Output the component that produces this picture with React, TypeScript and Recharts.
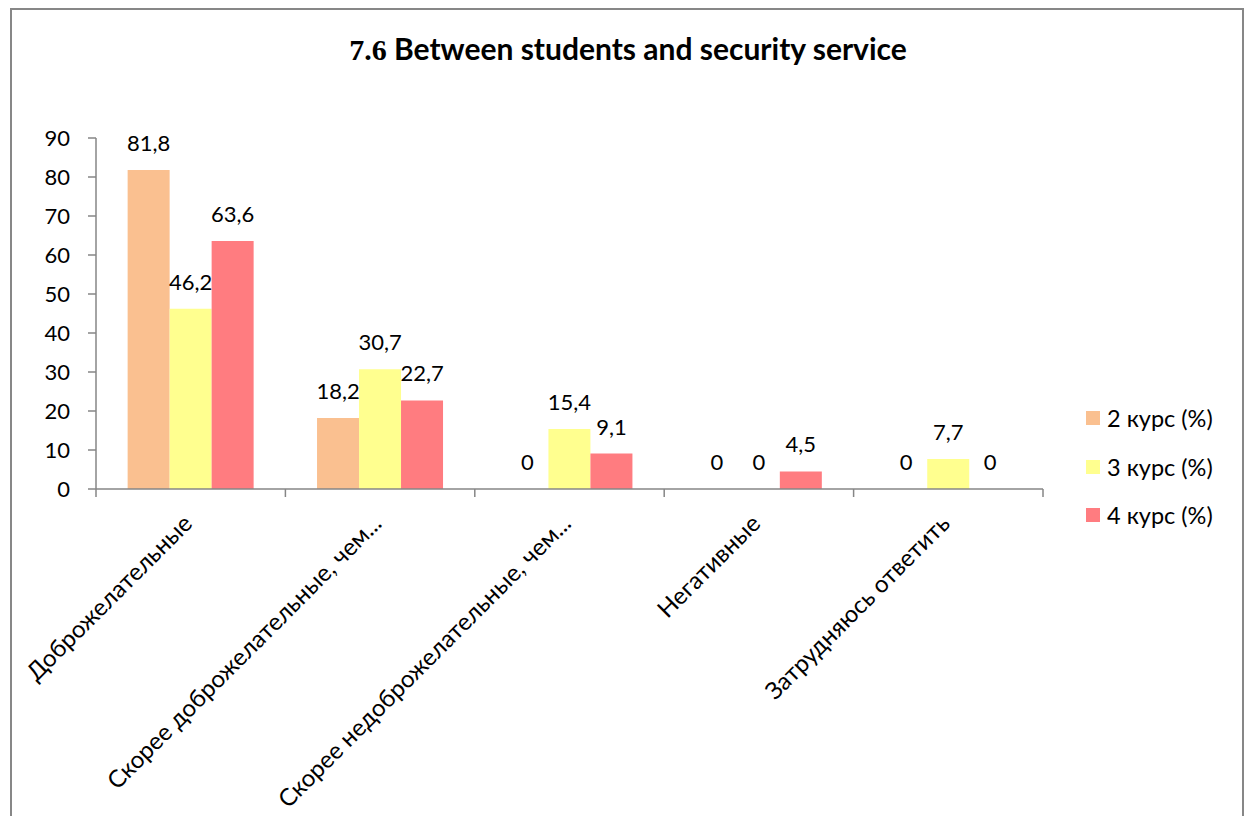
import { BarChart, Bar, XAxis, YAxis, Legend, LabelList } from 'recharts';

const categories = [
  'Доброжелательные',
  'Скорее доброжелательные, чем...',
  'Скорее недоброжелательные, чем...',
  'Негативные',
  'Затрудняюсь ответить',
];
const course2 = [81.8, 18.2, 0, 0, 0];
const course3 = [46.2, 30.7, 15.4, 0, 7.7];
const course4 = [63.6, 22.7, 9.1, 4.5, 0];
const yTicks = [0, 10, 20, 30, 40, 50, 60, 70, 80, 90];

const FONT = 'Lato, "Open Sans", sans-serif';
const AXIS = '#868686';
const W = 1248;
const H = 816;
const PLOT_LEFT = 96;
const PLOT_RIGHT = 1043;
const BAND = (PLOT_RIGHT - PLOT_LEFT) / categories.length;

const data = categories.map((name, i) => ({
  name,
  c2: course2[i],
  c3: course3[i],
  c4: course4[i],
}));

const fmt = (v: any) => String(v).replace('.', ',');

// zero bars get dropped otherwise, so keep a hairline entry for their "0" label
const keepZero = (v: any) => (v === 0 ? 0.01 : 0);

function ValueLabel(props: any) {
  const { x, y, width, value } = props;
  if (value === undefined || value === null) return null;
  return (
    <text
      x={x + width / 2}
      y={y - 19}
      textAnchor="middle"
      fontSize={22}
      fontFamily={FONT}
      fill="#000"
    >
      {fmt(value)}
    </text>
  );
}

function CategoryTick(props: any) {
  const { x, y, payload, index } = props;
  const ax = x + 3;
  const ay = y + 28;
  return (
    <g>
      <line x1={x - BAND / 2} x2={x - BAND / 2} y1={y - 8} y2={y} stroke={AXIS} strokeWidth={1.5} />
      {index === categories.length - 1 && (
        <line x1={x + BAND / 2} x2={x + BAND / 2} y1={y - 8} y2={y} stroke={AXIS} strokeWidth={1.5} />
      )}
      <text
        x={ax}
        y={ay}
        transform={`rotate(-45, ${ax}, ${ay})`}
        textAnchor="end"
        fontSize={24}
        fontFamily={FONT}
        fill="#000"
      >
        {payload.value}
      </text>
    </g>
  );
}

function LegendBox(props: any) {
  const { payload } = props;
  return (
    <div style={{ fontFamily: FONT, fontSize: 23.5, color: '#000' }}>
      {(payload || []).map((p: any) => (
        <div key={p.value} style={{ display: 'flex', alignItems: 'center', height: 48.5 }}>
          <span style={{ width: 14, height: 14, background: p.color, marginRight: 7, display: 'inline-block' }} />
          <span>{p.value}</span>
        </div>
      ))}
    </div>
  );
}

export default function App() {
  return (
    <div style={{ position: 'absolute', left: 0, top: 0, width: W, height: H, background: '#fff', overflow: 'hidden' }}>
      <div
        style={{
          position: 'absolute',
          left: 10,
          top: 8,
          width: 1234,
          height: 900,
          border: '2px solid #878787',
          boxSizing: 'border-box',
        }}
      />
      <div
        style={{
          position: 'absolute',
          left: 0,
          width: W,
          top: 28,
          textAlign: 'center',
          fontFamily: FONT,
          fontWeight: 700,
          fontSize: 30,
          lineHeight: '40px',
          color: '#000',
          paddingLeft: 4,
        }}
      >
        <span style={{ fontFamily: '"Liberation Serif", "Times New Roman", serif' }}>7.6</span> Between students and security service
      </div>
      <div style={{ position: 'absolute', left: 0, top: 0 }}>
        <BarChart
          width={W}
          height={H}
          data={data}
          margin={{ top: 138, right: W - PLOT_RIGHT, left: PLOT_LEFT - 60, bottom: 0 }}
          barCategoryGap="16.7%"
          barGap={0}
        >
          <Bar dataKey="c2" name="2 курс (%)" fill="#FAC090" minPointSize={keepZero} isAnimationActive={false}>
            <LabelList dataKey="c2" content={<ValueLabel />} />
          </Bar>
          <Bar dataKey="c3" name="3 курс (%)" fill="#FFFF8F" minPointSize={keepZero} isAnimationActive={false}>
            <LabelList dataKey="c3" content={<ValueLabel />} />
          </Bar>
          <Bar dataKey="c4" name="4 курс (%)" fill="#FF7C80" minPointSize={keepZero} isAnimationActive={false}>
            <LabelList dataKey="c4" content={<ValueLabel />} />
          </Bar>
          <XAxis
            dataKey="name"
            interval={0}
            height={H - 489}
            tickLine={false}
            tickSize={8}
            tickMargin={0}
            axisLine={{ stroke: AXIS, strokeWidth: 1.5 }}
            tick={<CategoryTick />}
          />
          <YAxis
            width={60}
            domain={[0, 90]}
            ticks={yTicks}
            interval={0}
            tickSize={8}
            tickMargin={18}
            axisLine={{ stroke: AXIS, strokeWidth: 1.5 }}
            tickLine={{ stroke: AXIS, strokeWidth: 1.5 }}
            tick={{ fill: '#000', fontSize: 22, fontFamily: FONT }}
          />
          <Legend
            layout="vertical"
            align="center"
            verticalAlign="middle"
            content={<LegendBox />}
            wrapperStyle={{ position: 'absolute', left: 1086, top: 394, width: 160 }}
          />
        </BarChart>
      </div>
    </div>
  );
}
